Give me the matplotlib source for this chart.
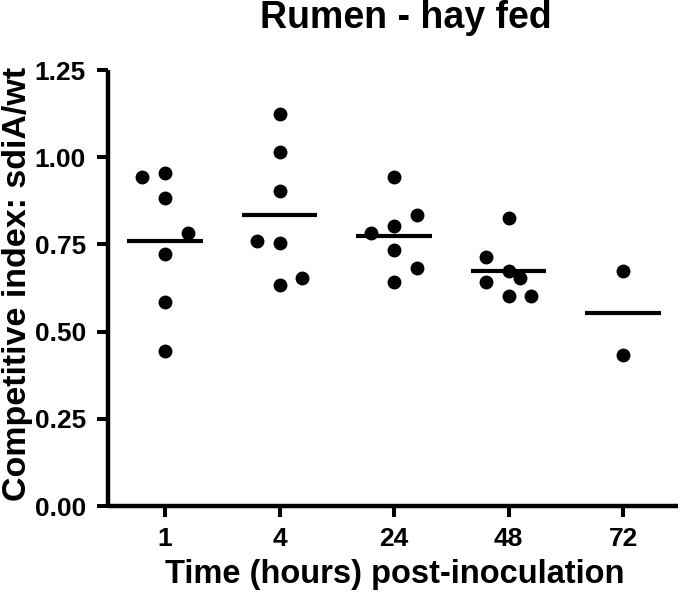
import numpy as np
import matplotlib
matplotlib.use("Agg")
import matplotlib.pyplot as plt

# ---- data ----
categories = ["1", "4", "24", "48", "72"]
t1 = [0.942, 0.954, 0.884, 0.782, 0.722, 0.584, 0.444]
t4 = [1.124, 1.014, 0.903, 0.761, 0.753, 0.634, 0.653]
t24 = [0.944, 0.833, 0.803, 0.784, 0.734, 0.683, 0.643]
t48 = [0.825, 0.713, 0.674, 0.653, 0.641, 0.603, 0.603]
t72 = [0.673, 0.434]
groups = [t1, t4, t24, t48, t72]
yticks = [0.00, 0.25, 0.50, 0.75, 1.00, 1.25]

# ---- layout (scatter column slots, not data) ----
slots = [
    [-1, 0, 0, 1, 0, 0, 0],
    [0, 0, 0, -1, 0, 0, 1],
    [0, 1, 0, -1, 0, 1, 0],
    [0, -1, 0, 0.5, -1, 0, 1],
    [0, 0],
]
slot_w = 0.2
mean_half = 0.33

plt.rcParams['font.family'] = ['Liberation Sans', 'DejaVu Sans']
plt.rcParams['font.weight'] = 'bold'

fig = plt.figure(figsize=(6.8, 6.05), dpi=100)
ax = fig.add_axes([108/680, 1-506/605, 570/680, 436/605])

for i, (vals, sl) in enumerate(zip(groups, slots)):
    xs = [i + s*slot_w for s in sl]
    ax.plot(xs, vals, 'o', color='black', markersize=10, markeredgewidth=0, zorder=3)
    m = np.mean(vals)
    ax.plot([i - mean_half, i + mean_half], [m, m], color='black', lw=3, solid_capstyle='butt', zorder=2)

ax.set_xlim(-0.498, 4.48)
ax.set_ylim(0, 1.25)
ax.set_xticks(range(len(categories)))
ax.set_xticklabels(categories)
ax.set_yticks(yticks)
ax.set_yticklabels([f"{v:.2f}" for v in yticks])

for s in ['top', 'right']:
    ax.spines[s].set_visible(False)
for s in ['left', 'bottom']:
    ax.spines[s].set_linewidth(3.2)
    ax.spines[s].set_capstyle('butt')

ax.tick_params(axis='both', which='major', length=8, width=2.9, direction='out', labelsize=19)
ax.tick_params(axis='y', pad=8)
ax.tick_params(axis='x', pad=7)
for lab in ax.get_xticklabels() + ax.get_yticklabels():
    lab.set_fontweight('bold')

fig.text(406/680, 1-28/605, "Rumen - hay fed", ha='center', va='baseline',
         fontsize=27, fontweight='bold')
fig.text(395/680, 1-583/605, "Time (hours) post-inoculation", ha='center', va='baseline',
         fontsize=23.5, fontweight='bold')
fig.text(18/680, 1-284/605, "Competitive index: sdiA/wt", ha='center', va='center',
         rotation=90, fontsize=24.5, fontweight='bold')

fig.savefig("out.png", dpi=100, facecolor='white')
